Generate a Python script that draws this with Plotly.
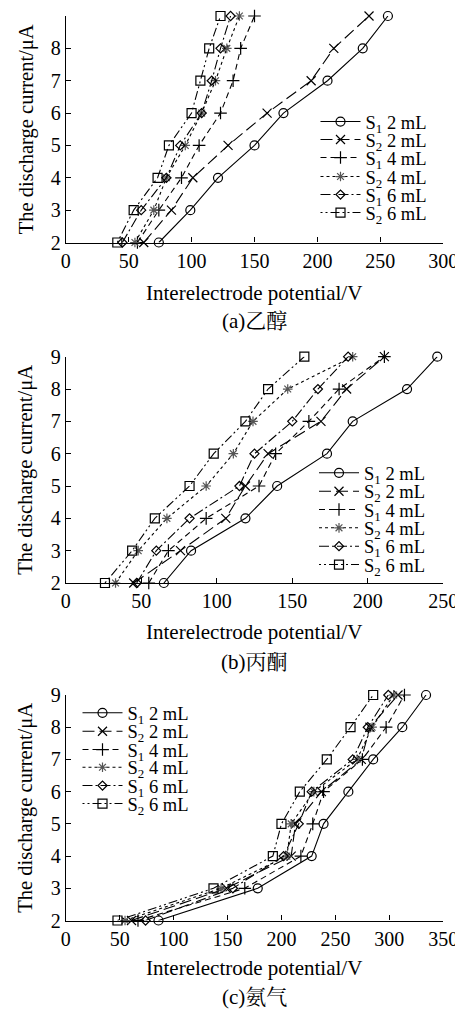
import plotly.graph_objects as go

# The page body has an 8px default margin: the figure is sized/placed to compensate.
OFF = 8
W, H = 463 - OFF, 1011 - OFF

current = [2, 3, 4, 5, 6, 7, 8, 9]
series_names = ["S<sub>1</sub> 2 mL", "S<sub>2</sub> 2 mL", "S<sub>1</sub> 4 mL",
                "S<sub>2</sub> 4 mL", "S<sub>1</sub> 6 mL", "S<sub>2</sub> 6 mL"]

# (a) ethanol
a_s1_2mL = [74, 99, 121, 150, 173, 208, 236, 256]
a_s2_2mL = [62, 84, 101, 129, 160, 195, 213, 241]
a_s1_4mL = [57, 74, 92, 106, 123, 133, 139, 150]
a_s2_4mL = [55, 70, 80, 95, 108, 119, 128, 138]
a_s1_6mL = [45, 60, 80, 91, 108, 116, 123, 131]
a_s2_6mL = [41, 54, 73, 82, 100, 107, 114, 123]

# (b) acetone
b_s1_2mL = [65, 83, 119, 140, 173, 190, 226, 246]
b_s2_2mL = [45, 76, 106, 119, 134, 169, 186, 211]
b_s1_4mL = [55, 68, 93, 128, 139, 161, 181, 211]
b_s2_4mL = [33, 48, 67, 93, 111, 124, 147, 190]
b_s1_6mL = [47, 60, 82, 115, 125, 150, 167, 187]
b_s2_6mL = [26, 44, 59, 82, 98, 119, 134, 158]

# (c) ammonia
c_s1_2mL = [86, 178, 228, 239, 262, 285, 312, 334]
c_s2_2mL = [61, 149, 209, 213, 237, 274, 282, 308]
c_s1_4mL = [67, 166, 218, 229, 239, 275, 297, 314]
c_s2_4mL = [55, 144, 205, 209, 230, 270, 284, 304]
c_s1_6mL = [74, 155, 202, 216, 228, 266, 280, 299]
c_s2_6mL = [48, 137, 192, 200, 217, 242, 264, 285]

panel_titles = ["(a)乙醇", "(b)丙酮", "(c)氨气"]
x_ranges = [[0, 300], [0, 250], [0, 350]]
x_title = "Interelectrode potential/V"
y_title = "The discharge current/μA"

panels = [
    [a_s1_2mL, a_s2_2mL, a_s1_4mL, a_s2_4mL, a_s1_6mL, a_s2_6mL],
    [b_s1_2mL, b_s2_2mL, b_s1_4mL, b_s2_4mL, b_s1_6mL, b_s2_6mL],
    [c_s1_2mL, c_s2_2mL, c_s1_4mL, c_s2_4mL, c_s1_6mL, c_s2_6mL],
]

styles = [
    dict(dash="solid", symbol="circle-open", size=9, color="black"),
    dict(dash="12px,5px", symbol="x-thin-open", size=9, color="black"),
    dict(dash="6px,4px", symbol="cross-thin-open", size=9, color="black"),
    dict(dash="dot", symbol="asterisk-open", size=8, color="#555555"),
    dict(dash="10px,3px,2px,3px", symbol="diamond-open", size=7, color="black"),
    dict(dash="2px,3px,2px,3px,9px,3px", symbol="square-open", size=9, color="black"),
]

# layout geometry in window pixels
x_left, x_right = 65.7, 443.3
y_px = [(16, 242.5), (356.7, 583), (695, 920.5)]
legend_x = [315.5, 314, 77.5]
legend_y = [[122, 140, 158, 177, 195, 213],
            [473.3, 491.7, 510, 528.3, 546.7, 565],
            [713.3, 731.7, 750, 767.7, 786, 804]]
title_y = [292.5, 632, 967.5]
cap_y = [321.5, 661.5, 996.5]


def px(v):
    return (v - OFF) / W


def py(v):
    return 1 - (v - OFF) / H


SERIF = "Liberation Serif, Times New Roman, serif"
CJK = "Liberation Serif, Noto Serif CJK SC, Noto Sans CJK SC, serif"

fig = go.Figure()
legends = {}
annotations = []
axes = {}

for p in range(3):
    ax = "" if p == 0 else str(p + 1)
    xa, ya = "x" + ax, "y" + ax
    for k in range(6):
        s = styles[k]
        idx = p * 6 + k
        lname = "legend" + ("" if idx == 0 else str(idx + 1))
        fig.add_trace(go.Scatter(
            x=panels[p][k], y=current, xaxis=xa, yaxis=ya,
            mode="lines+markers", name=series_names[k],
            line=dict(color="black", width=1.1, dash=s["dash"]),
            marker=dict(symbol=s["symbol"], size=s["size"], color=s["color"],
                        line=dict(color=s["color"], width=1.2)),
            cliponaxis=False, legend=lname, showlegend=True,
        ))
        legends[lname] = dict(
            x=px(legend_x[p]), y=py(legend_y[p][k]),
            xanchor="left", yanchor="middle",
            bgcolor="rgba(0,0,0,0)", borderwidth=0,
            font=dict(family=SERIF, size=18.5, color="black"),
            itemwidth=40, tracegroupgap=0,
        )
    top, bot = y_px[p]
    axes["xaxis" + ax] = dict(
        domain=[px(x_left), px(x_right)], anchor=ya, range=x_ranges[p],
        dtick=50, tick0=0, showline=True, linecolor="black", linewidth=1.1,
        ticks="inside", ticklen=5, tickwidth=1.1, tickcolor="black",
        showgrid=False, zeroline=False, automargin=False,
        tickfont=dict(family=SERIF, size=20, color="black"),
    )
    axes["yaxis" + ax] = dict(
        domain=[py(bot), py(top)], anchor=xa, range=[2, 9],
        dtick=1, tick0=2, showline=True, linecolor="black", linewidth=1.1,
        ticks="inside", ticklen=5, tickwidth=1.1, tickcolor="black",
        showgrid=False, zeroline=False, automargin=False,
        tickfont=dict(family=SERIF, size=20, color="black"),
    )
    annotations.append(dict(
        text=x_title, xref="paper", yref="paper", x=px(254.5), y=py(title_y[p]),
        xanchor="center", yanchor="middle", showarrow=False,
        font=dict(family=SERIF, size=21, color="black")))
    annotations.append(dict(
        text=panel_titles[p], xref="paper", yref="paper", x=px(254.5), y=py(cap_y[p]),
        xanchor="center", yanchor="middle", showarrow=False,
        font=dict(family=CJK, size=21, color="black")))
    annotations.append(dict(
        text=y_title, xref="paper", yref="paper", x=px(26), y=py((top + bot) / 2),
        xanchor="center", yanchor="middle", showarrow=False, textangle=-90,
        font=dict(family=SERIF, size=20.5, color="black")))

fig.update_layout(
    width=W, height=H, margin=dict(l=0, r=0, t=0, b=0),
    paper_bgcolor="white", plot_bgcolor="white",
    annotations=annotations, **axes, **legends,
)

fig.write_html("out.html")
